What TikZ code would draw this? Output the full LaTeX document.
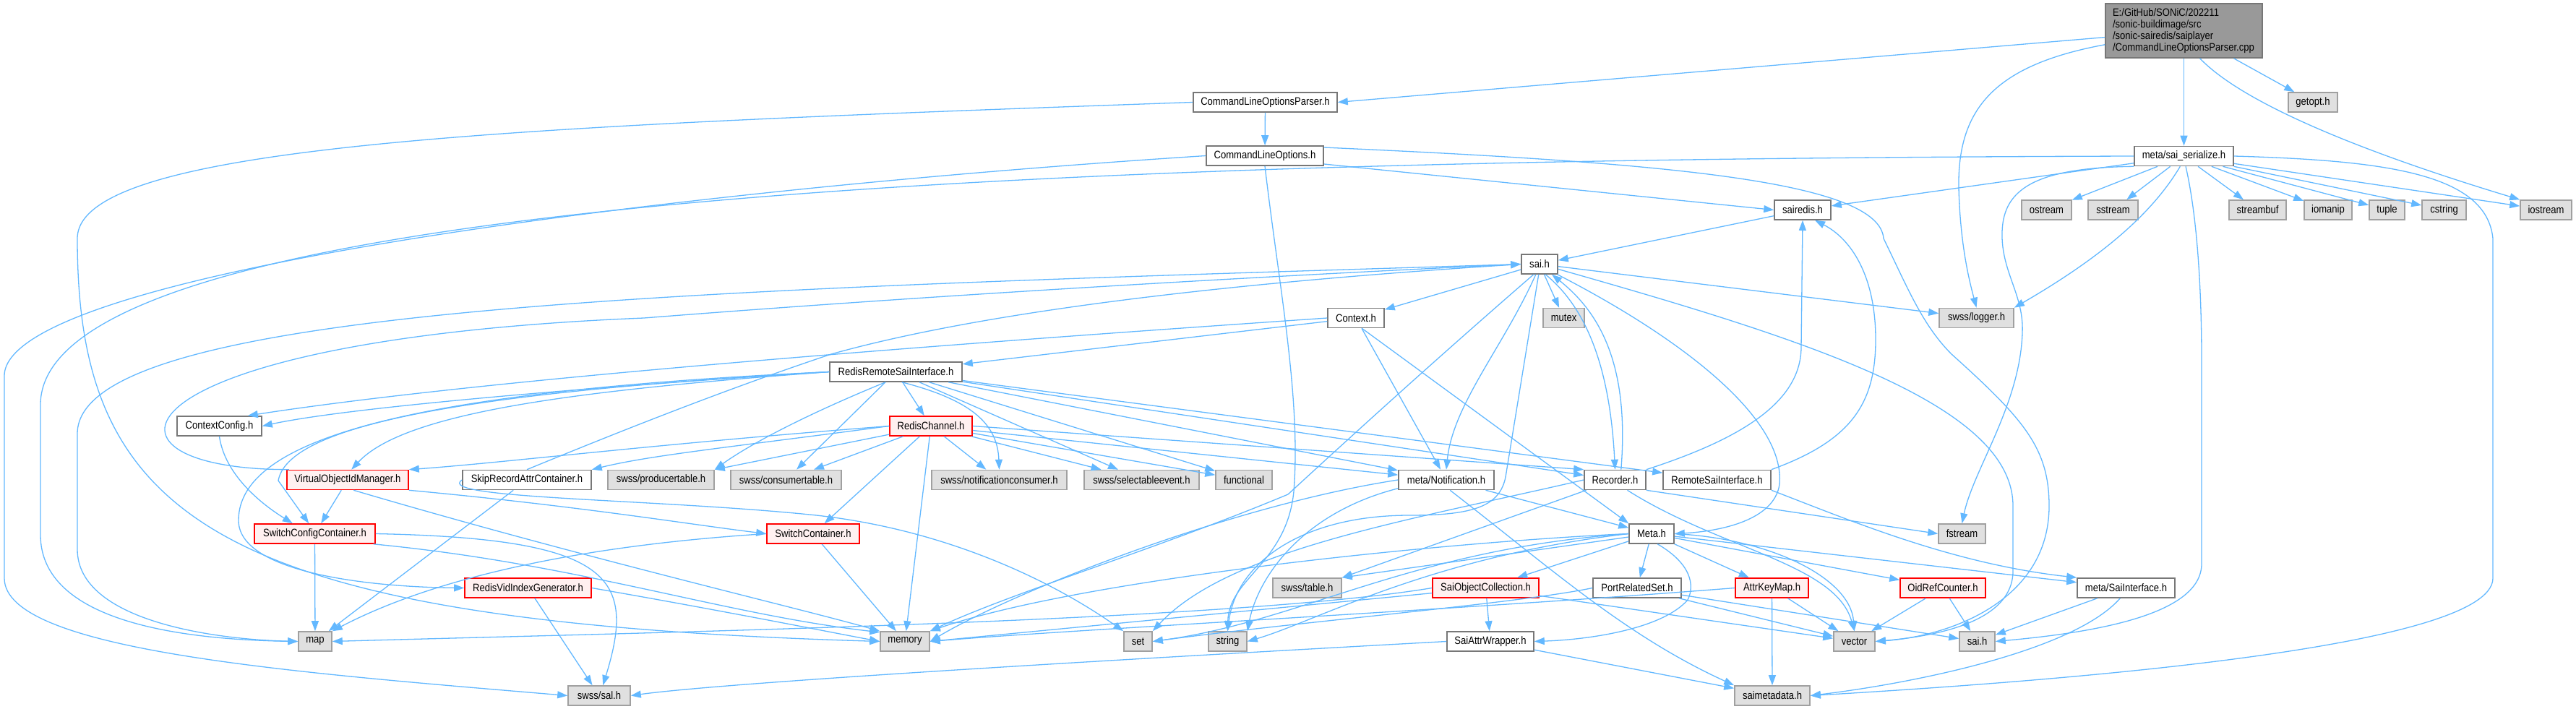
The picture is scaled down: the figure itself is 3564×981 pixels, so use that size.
\documentclass[tikz,border=0pt]{standalone}
\usepackage{fontspec}
\setmainfont{Liberation Sans}[FakeStretch=0.87]
\usetikzlibrary{arrows.meta}

\definecolor{edgeblue}{HTML}{63B8FF}
\definecolor{boxline}{HTML}{777777}
\definecolor{sysfill}{HTML}{E0E0E0}
\definecolor{sysline}{HTML}{A0A0A0}
\definecolor{cutfill}{HTML}{FFF0F0}
\definecolor{mainfill}{HTML}{999999}

\begin{document}
\begin{tikzpicture}[x=1pt, y=-1pt,
    file/.style={rectangle, draw=boxline, fill=white, line width=1.6pt, inner sep=0pt,
                 minimum height=27pt, font=\fontsize{15}{16}\selectfont},
    sysfile/.style={file, draw=sysline, fill=sysfill},
    cutfile/.style={file, draw=red, fill=cutfill},
    inc/.style={draw=edgeblue, line width=1.3pt, -{Triangle[length=14pt,width=10pt]}}]
\useasboundingbox (0,0) rectangle (3564,981);

% top rows
\node[file, fill=mainfill, minimum width=217pt, minimum height=75pt, text width=197pt, align=left] (root) at (3021.5,42.5)
  {E:/GitHub/SONiC/202211\\/sonic-buildimage/src\\/sonic-sairedis/saiplayer\\/CommandLineOptionsParser.cpp};
\node[file, minimum width=199pt] (clop) at (1750.5,141.5) {CommandLineOptionsParser.h};
\node[sysfile, minimum width=68pt] (getopt) at (3200,141.5) {getopt.h};
\node[file, minimum width=162pt] (clo) at (1750,215.5) {CommandLineOptions.h};
\node[file, minimum width=137pt] (serialize) at (3021.5,216) {meta/sai\_serialize.h};
\node[file, minimum width=78pt] (sairedis) at (2494,290.5) {sairedis.h};
\node[sysfile, minimum width=69pt] (ostream) at (2831.5,290.5) {ostream};
\node[sysfile, minimum width=69pt] (sstream) at (2923.5,290.5) {sstream};
\node[sysfile, minimum width=79pt] (streambuf) at (3123.5,290.5) {streambuf};
\node[sysfile, minimum width=66pt] (iomanip) at (3221,290.5) {iomanip};
\node[sysfile, minimum width=49pt] (tuple) at (3302.5,290.5) {tuple};
\node[sysfile, minimum width=61pt] (cstring) at (3381.5,290.5) {cstring};
\node[sysfile, minimum width=71pt] (iostream) at (3522.5,290.5) {iostream};
\node[file, minimum width=50pt] (saih) at (2130,365.5) {sai.h};
\node[file, minimum width=78pt] (context) at (1876,440) {Context.h};
\node[sysfile, minimum width=57pt] (mutex) at (2163.5,440) {mutex};
\node[sysfile, minimum width=103pt] (logger) at (2734.5,440) {swss/logger.h};
\node[file, minimum width=183pt] (rrsi) at (1239.5,514.5) {RedisRemoteSaiInterface.h};
\node[cutfile, minimum width=114pt] (redischannel) at (1288,589.5) {RedisChannel.h};
\node[file, minimum width=117pt] (contextconfig) at (303.5,589.5) {ContextConfig.h};

% middle rows
\node[cutfile, minimum width=168pt] (voim) at (481,664) {VirtualObjectIdManager.h};
\node[file, minimum width=178pt] (skiprecord) at (729,664) {SkipRecordAttrContainer.h};
\node[sysfile, minimum width=147pt] (producertable) at (914.5,664) {swss/producertable.h};
\node[sysfile, minimum width=153pt] (consumertable) at (1087.5,664) {swss/consumertable.h};
\node[sysfile, minimum width=187pt] (notificationconsumer) at (1382.5,664) {swss/notificationconsumer.h};
\node[sysfile, minimum width=159pt] (selectableevent) at (1579.5,664) {swss/selectableevent.h};
\node[sysfile, minimum width=78pt] (functional) at (1721,664) {functional};
\node[file, minimum width=132pt] (notification) at (2001,664) {meta/Notification.h};
\node[file, minimum width=85pt] (recorder) at (2234.5,664) {Recorder.h};
\node[file, minimum width=149pt] (remotesai) at (2375.5,664) {RemoteSaiInterface.h};
\node[cutfile, minimum width=167pt] (switchconfig) at (435.5,738.5) {SwitchConfigContainer.h};
\node[cutfile, minimum width=128pt] (switchcontainer) at (1125,738.5) {SwitchContainer.h};
\node[file, minimum width=62pt] (meta) at (2285,738.5) {Meta.h};
\node[sysfile, minimum width=65pt] (fstream) at (2714.5,738.5) {fstream};
\node[cutfile, minimum width=175pt] (redisvid) at (730.5,813.5) {RedisVidIndexGenerator.h};
\node[sysfile, minimum width=95pt] (swsstable) at (1808.5,813.5) {swss/table.h};
\node[cutfile, minimum width=147pt] (saiobjcoll) at (2055.5,813.5) {SaiObjectCollection.h};
\node[file, minimum width=122pt] (portrelated) at (2265,813.5) {PortRelatedSet.h};
\node[cutfile, minimum width=101pt] (attrkeymap) at (2451.5,813.5) {AttrKeyMap.h};
\node[cutfile, minimum width=118pt] (oidref) at (2688,813.5) {OidRefCounter.h};
\node[file, minimum width=135pt] (saiinterface) at (2941.5,813.5) {meta/SaiInterface.h};

% bottom rows
\node[sysfile, minimum width=46pt] (map) at (436,887.5) {map};
\node[sysfile, minimum width=68pt] (memory) at (1252,887.5) {memory};
\node[sysfile, minimum width=39pt] (set) at (1574.5,887.5) {set};
\node[sysfile, minimum width=53pt] (string) at (1698.5,887.5) {string};
\node[file, minimum width=120pt] (saiattrwrapper) at (2062,887.5) {SaiAttrWrapper.h};
\node[sysfile, minimum width=57pt] (vector) at (2565.5,887.5) {vector};
\node[sysfile, minimum width=49pt] (saigray) at (2735.5,887.5) {sai.h};
\node[sysfile, minimum width=86pt] (swsssal) at (829,962.5) {swss/sal.h};
\node[sysfile, minimum width=104pt] (saimetadata) at (2452,962.5) {saimetadata.h};

% root file
\draw[inc] (root) -- (clop.east);
\draw[inc] (root) -- (serialize);
\draw[inc] (root) -- (getopt);
\draw[inc] (root.-60) .. controls (3110,150) and (3300,220) .. (iostream.north west);
\draw[inc] (root.190) .. controls (2760,90) and (2708,150) .. (2710,260) .. controls (2712,340) and (2725,390) .. (logger.north);

% CommandLineOptionsParser.h / CommandLineOptions.h
\draw[inc] (clop) -- (clo);
\draw[inc] (clop.west) .. controls (700,175) and (107,200) .. (107,330) .. controls (107,720) and (300,860) .. (memory.west);
\draw[inc] (clo.-8) -- (sairedis.west);
\draw[inc] (clo.west) .. controls (900,265) and (6,380) .. (6,520) -- (6,800) .. controls (6,900) and (400,930) .. (swsssal.west);
\draw[inc] (clo.8) .. controls (2300,225) and (2600,250) .. (2606,330) .. controls (2640,400) and (2660,450) .. (2700,490)
  .. controls (2800,580) and (2835,620) .. (2835,700) .. controls (2835,830) and (2700,880) .. (vector.east);
\draw[inc] (clo.south) .. controls (1770,400) and (1800,550) .. (1790,680) .. controls (1780,780) and (1700,800) .. (string.north);

% meta/sai_serialize.h
\draw[inc] (serialize) -- (ostream);
\draw[inc] (serialize) -- (sstream);
\draw[inc] (serialize) -- (streambuf);
\draw[inc] (serialize) -- (iomanip);
\draw[inc] (serialize) -- (tuple);
\draw[inc] (serialize) -- (cstring);
\draw[inc] (serialize) -- (iostream);
\draw[inc] (serialize) -- (sairedis);
\draw[inc] (serialize.west) .. controls (1600,220) and (56,260) .. (56,560) -- (56,740) .. controls (56,860) and (250,885) .. (map.west);
\draw[inc] (serialize.-110) .. controls (2975,300) and (2900,360) .. (logger.north east);
\draw[inc] (serialize.south west) .. controls (2800,232) and (2768,270) .. (2770,330) .. controls (2772,380) and (2800,410) .. (2798,460)
  .. controls (2795,560) and (2730,650) .. (fstream.north);
\draw[inc] (serialize.-80) .. controls (3040,300) and (3046,400) .. (3046,500) -- (3046,780) .. controls (3046,850) and (2900,875) .. (saigray.east);
\draw[inc] (serialize.east) .. controls (3300,222) and (3440,240) .. (3449,330) -- (3449,800) .. controls (3449,900) and (2800,945) .. (saimetadata.east);

% sairedis.h / sai.h
\draw[inc] (sairedis) -- (saih);
\draw[inc] (saih) -- (context);
\draw[inc] (saih) -- (mutex);
\draw[inc] (saih) -- (logger);
\draw[inc] (saih.250) .. controls (2080,480) and (2010,560) .. (notification.north);
\draw[inc] (saih.-60) .. controls (2200,430) and (2228,520) .. (recorder.north);
\draw[inc] (recorder.60) .. controls (2255,500) and (2210,430) .. (saih.-40);
\draw[inc] (saih.-30) .. controls (2330,470) and (2470,580) .. (2462,670) .. controls (2455,720) and (2380,735) .. (meta.east);
\draw[inc] (saih.-15) .. controls (2500,470) and (2785,560) .. (2785,700) -- (2785,790) .. controls (2785,860) and (2680,880) .. (vector.east);
\draw[inc] (saih.west) .. controls (1000,400) and (107,420) .. (107,600) -- (107,760) .. controls (107,860) and (300,885) .. (map.west);
\draw[inc] (saih.-120) .. controls (1960,520) and (1830,640) .. (1782,684) .. controls (1600,760) and (1400,820) .. (memory.north east);
\draw[inc] (saih.-95) -- (2083,660) .. controls (2075,700) and (2040,713) .. (1950,713) .. controls (1800,713) and (1710,780) .. (string.north);
\draw[inc] (voim.170) .. controls (100,650) and (150,470) .. (891,440) .. controls (1400,400) and (1900,375) .. (saih.west);
\draw[inc] (skiprecord.north) .. controls (850,600) and (1000,540) .. (1150,490) .. controls (1400,420) and (1800,385) .. (saih.west);

% Context.h
\draw[inc] (context) -- (rrsi);
\draw[inc] (context.west) .. controls (1400,470) and (700,520) .. (contextconfig.20);
\draw[inc] (context) -- (notification);
\draw[inc] (context.-60) -- (meta.north west);

% RedisRemoteSaiInterface.h
\draw[inc] (rrsi) -- (redischannel);
\draw[inc] (rrsi.west) .. controls (900,530) and (500,560) .. (contextconfig.east);
\draw[inc] (rrsi.west) .. controls (800,540) and (560,570) .. (voim.70);
\draw[inc] (rrsi.west) .. controls (700,540) and (400,580) .. (385,665) -- (switchconfig.120);
\draw[inc] (rrsi.west) .. controls (600,540) and (330,600) .. (330,720) .. controls (330,790) and (500,812) .. (redisvid.west);
\draw[inc] (rrsi.-135) .. controls (1100,580) and (1030,620) .. (producertable.north east);
\draw[inc] (rrsi) -- (consumertable);
\draw[inc] (rrsi.-60) .. controls (1350,555) and (1380,590) .. (notificationconsumer.north);
\draw[inc] (rrsi) -- (selectableevent);
\draw[inc] (rrsi) -- (functional);
\draw[inc] (rrsi) -- (notification);
\draw[inc] (rrsi) -- (recorder);
\draw[inc] (rrsi) -- (remotesai);

% RedisChannel.h
\draw[inc] (redischannel) -- (producertable.north east);
\draw[inc] (redischannel) -- (consumertable);
\draw[inc] (redischannel) -- (notificationconsumer);
\draw[inc] (redischannel) -- (selectableevent);
\draw[inc] (redischannel) -- (functional);
\draw[inc] (redischannel) -- (switchcontainer);
\draw[inc] (redischannel) -- (memory);
\draw[inc] (redischannel.west) .. controls (900,615) and (700,640) .. (voim.north east);
\draw[inc] (redischannel.west) .. controls (1000,620) and (900,630) .. (skiprecord.north east);
\draw[inc] (redischannel) -- (notification);
\draw[inc] (redischannel.east) -- (recorder.north west);

% left part
\draw[inc] (contextconfig.south) .. controls (310,650) and (350,690) .. (switchconfig.155);
\draw[inc] (voim) -- (switchconfig);
\draw[inc] (voim.-60) .. controls (800,770) and (1100,840) .. (memory.north west);
\draw[inc] (voim.south east) .. controls (800,700) and (950,725) .. (switchcontainer.west);
\draw[inc] (switchconfig) -- (map);
\draw[inc] (switchconfig.east) .. controls (850,745) and (880,800) .. (swsssal.70);
\draw[inc] (switchconfig.-10) .. controls (800,780) and (1000,850) .. (memory.160);
\draw[inc] (skiprecord) -- (map);
\draw[inc] (skiprecord.west) .. controls (600,690) and (900,690) .. (1120,712) .. controls (1300,730) and (1450,800) .. (set.north west);
\draw[inc] (redisvid) -- (swsssal);
\draw[inc] (redisvid.east) .. controls (1000,845) and (1150,875) .. (memory.west);
\draw[inc] (switchcontainer) -- (memory);
\draw[inc] (switchcontainer.west) .. controls (800,755) and (600,800) .. (map.north east);

% meta/Notification.h, Recorder.h, RemoteSaiInterface.h
\draw[inc] (notification.west) .. controls (1700,700) and (1400,820) .. (memory.east);
\draw[inc] (notification.190) .. controls (1800,710) and (1740,800) .. (string.north east);
\draw[inc] (notification.-70) .. controls (2150,790) and (2250,880) .. (saimetadata.north west);
\draw[inc] (notification) -- (meta);
\draw[inc] (recorder.north east) .. controls (2400,610) and (2492,560) .. (2492,480) -- (sairedis.south);
\draw[inc] (recorder.south east) -- (fstream.west);
\draw[inc] (recorder) -- (swsstable.north east);
\draw[inc] (recorder.-40) .. controls (2380,760) and (2540,780) .. (vector.north);
\draw[inc] (recorder.west) .. controls (1950,720) and (1700,760) .. (set.north east);
\draw[inc] (remotesai.north east) .. controls (2560,610) and (2595,560) .. (2595,470) .. controls (2595,380) and (2560,330) .. (sairedis.-40);
\draw[inc] (remotesai.south east) .. controls (2560,720) and (2700,780) .. (saiinterface.north west);

% Meta.h
\draw[inc] (meta) -- (swsstable.north east);
\draw[inc] (meta) -- (saiobjcoll);
\draw[inc] (meta) -- (portrelated);
\draw[inc] (meta) -- (attrkeymap);
\draw[inc] (meta) -- (oidref);
\draw[inc] (meta) -- (saiinterface);
\draw[inc] (meta.east) .. controls (2450,745) and (2560,800) .. (vector.north);
\draw[inc] (meta.-60) .. controls (2340,780) and (2345,810) .. (2335,830) .. controls (2300,870) and (2200,885) .. (saiattrwrapper.east);
\draw[inc] (meta.west) .. controls (2000,750) and (1500,800) .. (memory.north east);
\draw[inc] (meta.west) .. controls (1950,760) and (1800,860) .. (set.east);
\draw[inc] (meta.west) .. controls (1980,770) and (1820,860) .. (string.east);

% lower files
\draw[inc] (saiobjcoll) -- (saiattrwrapper);
\draw[inc] (saiobjcoll.west) .. controls (1700,860) and (900,875) .. (map.east);
\draw[inc] (saiobjcoll) -- (memory.east);
\draw[inc] (saiobjcoll) -- (vector);
\draw[inc] (portrelated.west) .. controls (2100,835) and (1800,860) .. (set.east);
\draw[inc] (portrelated) -- (vector);
\draw[inc] (portrelated) -- (saigray);
\draw[inc] (attrkeymap) -- (saimetadata);
\draw[inc] (attrkeymap) -- (vector);
\draw[inc] (attrkeymap.west) .. controls (2000,845) and (1500,870) .. (memory.east);
\draw[inc] (oidref) -- (saigray);
\draw[inc] (oidref) -- (vector);
\draw[inc] (saiattrwrapper) -- (saimetadata);
\draw[inc] (saiattrwrapper.west) .. controls (1500,915) and (1000,945) .. (swsssal.east);
\draw[inc] (saiinterface) -- (saigray);
\draw[inc] (saiinterface.-120) .. controls (2870,900) and (2650,945) .. (saimetadata.east);
\end{tikzpicture}
\end{document}
